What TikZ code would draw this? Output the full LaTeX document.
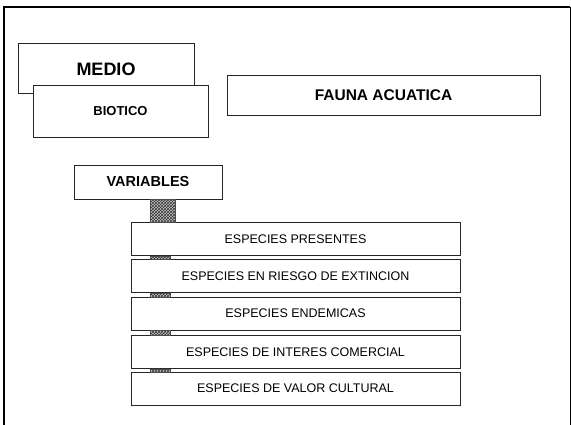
\documentclass[tikz,border=0pt]{standalone}
\usepackage{fontspec}
\setmainfont{Liberation Sans}
\usetikzlibrary{patterns}
\begin{document}
\begin{tikzpicture}[x=1pt,y=-1pt,
  box/.style={draw=black!85,line width=0.7pt,fill=white,rectangle,inner sep=0pt,align=center},
  spbox/.style={box,minimum width=329pt,minimum height=33pt,font=\fontsize{12.5}{14}\selectfont},
  conn/.style={preaction={fill=gray!45},pattern=crosshatch,pattern color=black!80,draw=black!70,line width=0.3pt}]
\useasboundingbox (0,0) rectangle (571,425);
% outer frame
\draw[line width=1.6pt] (4,426) -- (4,7) -- (570,7);
\draw[line width=0.8pt] (570,7) -- (570,426);
% upper boxes
\node[box,minimum width=176pt,minimum height=50pt] (medio) at (106,68) {};
\node[font=\bfseries\fontsize{18}{20}\selectfont] (mediot) at (106,69) {MEDIO};
\node[box,minimum width=175pt,minimum height=52pt,font=\bfseries\fontsize{13}{15}\selectfont] (biotico) at (120.5,111) {BIOTICO};
\node[box,minimum width=313pt,minimum height=40pt,font=\bfseries\fontsize{15.5}{17}\selectfont] (fauna) at (383.5,95) {FAUNA ACUATICA};
\node[box,minimum width=148pt,minimum height=34pt,font=\bfseries\fontsize{14.5}{16}\selectfont] (var) at (148,182) {VARIABLES};
% species boxes
\node[spbox] (s1) at (295.5,239) {ESPECIES PRESENTES};
\node[spbox] (s2) at (295.5,276) {ESPECIES EN RIESGO DE EXTINCION};
\node[spbox] (s3) at (295.5,313.5) {ESPECIES ENDEMICAS};
\node[spbox] (s4) at (295.5,352) {ESPECIES DE INTERES COMERCIAL};
\node[spbox] (s5) at (295.5,388.5) {ESPECIES DE VALOR CULTURAL};
% connectors
\path[conn] (150,0 |- var.south) rectangle (175,0 |- s1.north);
\path[conn] (150,0 |- s1.south) rectangle (170,0 |- s2.north);
\path[conn] (150,0 |- s2.south) rectangle (170,0 |- s3.north);
\path[conn] (150,0 |- s3.south) rectangle (170,0 |- s4.north);
\path[conn] (150,0 |- s4.south) rectangle (170,0 |- s5.north);
\end{tikzpicture}
\end{document}
